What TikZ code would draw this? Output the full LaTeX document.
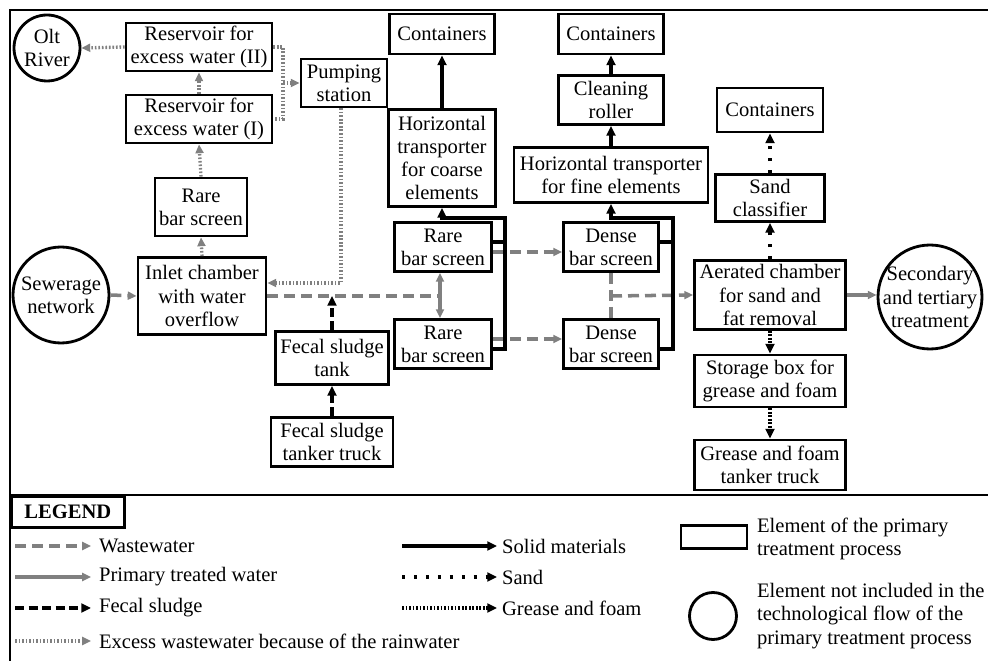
\documentclass[tikz,border=0pt]{standalone}
\usepackage{fontspec}
\setmainfont{Liberation Serif}
\usepackage{tikz}
\usetikzlibrary{shapes.geometric, arrows.meta, positioning, calc}

\begin{document}
\begin{tikzpicture}[
    x=0.2mm, y=-0.2mm,
    font=\fontsize{11.7}{13.2}\selectfont,
    box/.style={draw, line width=1.6pt, align=center, inner sep=1pt},
    round/.style={circle, draw, line width=1.6pt, align=center, inner sep=0pt},
    sz/.style 2 args={minimum width=#1*0.2mm, minimum height=#2*0.2mm},
    waste/.style={gray, line width=2pt, dash pattern=on 2.2mm off 1.2mm, -{Triangle[length=5pt,width=4.5pt]}},
    treated/.style={gray, line width=2pt, -{Triangle[length=5pt,width=4.5pt]}},
    fecal/.style={black, line width=1.9pt, dash pattern=on 1.8mm off 0.9mm, -{Triangle[length=5.5pt,width=5pt]}},
    excess/.style={gray, line width=1.9pt, dash pattern=on 0.9pt off 1.1pt, -{Triangle[length=5pt,width=4.5pt]}},
    solidflow/.style={black, line width=2pt, -{Triangle[length=5.5pt,width=5pt]}},
    sandflow/.style={black, line width=1.9pt, dash pattern=on 1.8pt off 5pt, -{Triangle[length=5.5pt,width=5pt]}},
    grease/.style={black, line width=1.9pt, dash pattern=on 1pt off 1pt, -{Triangle[length=5.5pt,width=5pt]}},
    legtext/.style={anchor=west, align=left, inner sep=1pt},
]
\useasboundingbox (0,0) rectangle (988,661);

% Frame and legend separator
\draw[line width=1.6pt] (988,10) -- (10,10) -- (10,661);
\draw[line width=1.6pt] (10,495) -- (988,495);

% Excess water branch (left)
\node[round, minimum size=66*0.2mm] (olt) at (47,48) {Olt\\River};
\node[box, sz={146}{48}] (res2) at (199,47) {Reservoir for\\excess water (II)};
\node[box, sz={146}{48}] (res1) at (199,119) {Reservoir for\\excess water (I)};
\node[box, sz={86}{48}] (pump) at (344,83) {Pumping\\station};
\node[box, sz={92}{58}] (rare0) at (201,207) {Rare\\bar screen};

% Inflow
\node[round, minimum size=96*0.2mm] (sew) at (61,295) {Sewerage\\network};
\node[box, sz={128}{77}] (inlet) at (202,296) {Inlet chamber\\with water\\overflow};
\node[box, sz={113}{53}] (tank) at (332,358) {Fecal sludge\\tank};
\node[box, sz={122}{49}] (truck) at (332,442) {Fecal sludge\\tanker truck};

% Coarse screening
\node[box, sz={105}{40}] (cont1) at (442,34) {Containers};
\node[box, sz={107}{97}] (hcoarse) at (442,158) {Horizontal\\transporter\\for coarse\\elements};
\node[box, sz={97}{49}] (rareA) at (443,247) {Rare\\bar screen};
\node[box, sz={97}{49}] (rareB) at (443,344) {Rare\\bar screen};

% Fine screening
\node[box, sz={105}{40}] (cont2) at (611,34) {Containers};
\node[box, sz={105}{49}] (roller) at (611,100) {Cleaning\\roller};
\node[box, sz={194}{55}] (hfine) at (611,175) {Horizontal transporter\\for fine elements};
\node[box, sz={95}{49}] (denseA) at (611,247) {Dense\\bar screen};
\node[box, sz={95}{49}] (denseB) at (611,344) {Dense\\bar screen};

% Sand and fat removal
\node[box, sz={106}{44}] (cont3) at (770,110) {Containers};
\node[box, sz={109}{47}] (sand) at (770,198) {Sand\\classifier};
\node[box, sz={151}{69}] (aer) at (770,295) {Aerated chamber\\for sand and\\fat removal};
\node[round, minimum size=104*0.2mm, inner sep=-2mm] (sec) at (930,297) {Secondary\\and tertiary\\treatment};
\node[box, sz={151}{52}] (store) at (770,381) {Storage box for\\grease and foam};
\node[box, sz={151}{50}] (gtruck) at (770,465) {Grease and foam\\tanker truck};

% Junctions
\coordinate (jr) at (283,83);
\coordinate (jp) at (341,283);
\coordinate (jm) at (440,296);
\coordinate (jc) at (505,218);
\coordinate (jf) at (673,218);
\coordinate (jd) at (611,296);

% Excess wastewater because of the rainwater
\draw[excess] (inlet.north) -- (rare0.south);
\draw[excess] (rare0.north) -- (res1.south);
\draw[excess] (res1.north) -- (res2.south);
\draw[excess] (res2.west) -- (olt.east);
\draw[excess, -] (res2.east) -| (jr) |- (res1.east);
\draw[excess] (jr) -- (pump.west);
\draw[excess] (pump.south -| jp) -- (jp) -- (inlet.east |- jp);

% Wastewater
\draw[waste] (sew.east) -- (inlet.west);
\draw[waste, -] (inlet.east) -- (jm);
\draw[treated] (jm) -- (rareA.south -| jm);
\draw[treated] (jm) -- (rareB.north -| jm);
\draw[waste] ([yshift=-1mm]rareA.east) -- ([yshift=-1mm]denseA.west);
\draw[waste] ([yshift=1mm]rareB.east) -- ([yshift=1mm]denseB.west);
\draw[waste, -] (denseA.south) -- (denseB.north);
\draw[waste] (jd) -- (aer.west);

% Fecal sludge
\draw[fecal] (truck.north) -- (tank.south);
\draw[fecal] (tank.north) -- (tank.north |- jm);

% Solid materials
\draw[solidflow, -] ([yshift=1mm]rareA.east) -- ([yshift=1mm]rareA.east -| jc);
\draw[solidflow] ([yshift=-1mm]rareB.east) -| (jc) -| (hcoarse.south);
\draw[solidflow] (hcoarse.north) -- (cont1.south);
\draw[solidflow, -] ([yshift=1mm]denseA.east) -- ([yshift=1mm]denseA.east -| jf);
\draw[solidflow] ([yshift=-1mm]denseB.east) -| (jf) -| (hfine.south);
\draw[solidflow] (hfine.north) -- (roller.south);
\draw[solidflow] (roller.north) -- (cont2.south);

% Primary treated water, sand, grease and foam
\draw[treated] (aer.east) -- (aer.east -| sec.west);
\draw[sandflow] (aer.north) -- (sand.south);
\draw[sandflow] (sand.north) -- (cont3.south);
\draw[grease] (aer.south) -- (store.north);
\draw[grease] (store.south) -- (gtruck.north);

% Legend
\node[draw, line width=1.6pt, anchor=north west, minimum width=113*0.2mm, minimum height=31*0.2mm, font=\fontsize{11.7}{13.2}\selectfont\bfseries] (leg) at (10,495) {LEGEND};

\node[legtext] (lwaste) at (97,546) {Wastewater};
\node[legtext] (ltreat) at (97,577) {Primary treated water};
\node[legtext] (lfecal) at (97,608) {Fecal sludge};
\node[legtext] (lexcess) at (97,641) {Excess wastewater because of the rainwater};
\foreach \n/\s in {lwaste/waste, ltreat/treated, lfecal/fecal, lexcess/excess} {
    \coordinate (\n0) at (15,0 |- \n.west);
    \draw[\s, shorten >=1.2mm] (\n0) -- (\n.west);
}

\node[legtext] (lsolid) at (500,546) {Solid materials};
\node[legtext] (lsand) at (500,577) {Sand};
\node[legtext] (lgrease) at (500,608) {Grease and foam};
\foreach \n/\s in {lsolid/solidflow, lsand/sandflow, lgrease/grease} {
    \coordinate (\n0) at (402,0 |- \n.west);
    \draw[\s, shorten >=0.6mm] (\n0) -- (\n.west);
}

\node[box, sz={66}{23}] (lbox) at (714,537) {};
\node[legtext] (lboxt) at (755,539) {Element of the primary\\treatment process};
\node[round, minimum size=47*0.2mm] (lcirc) at (713,616) {};
\node[legtext] (lcirct) at (755,616) {Element not included in the\\technological flow of the\\primary treatment process};

\end{tikzpicture}
\end{document}
